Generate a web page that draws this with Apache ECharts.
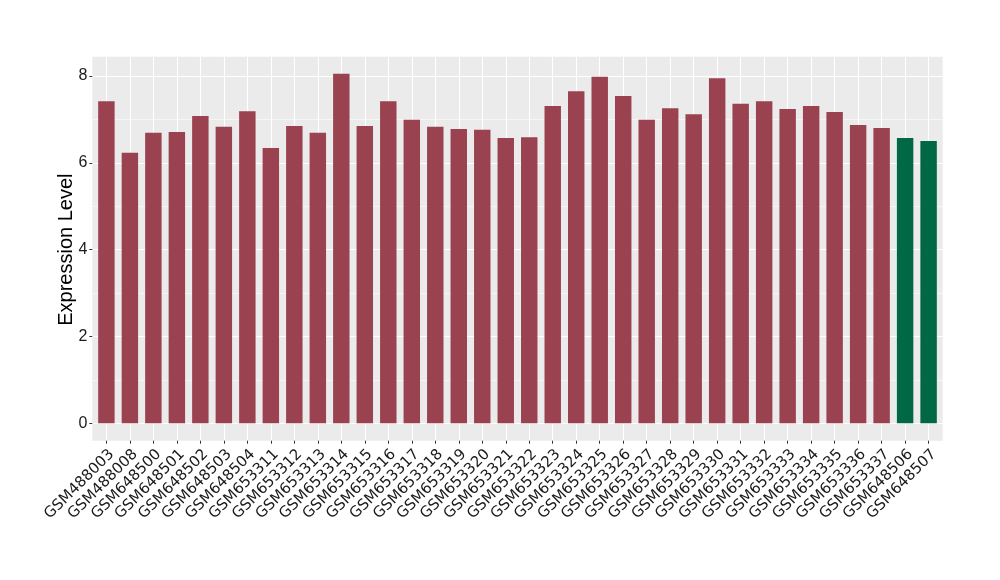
<!DOCTYPE html>
<html>
<head>
<meta charset="utf-8">
<script src="https://cdn.jsdelivr.net/npm/echarts@6/dist/echarts.min.js"></script>
<style>
  html, body { margin: 0; padding: 0; background: #ffffff; }
  #chart { width: 1000px; height: 580px; }
</style>
</head>
<body>
<div id="chart"></div>
<script>
const categories = [
  'GSM488003', 'GSM488008', 'GSM648500', 'GSM648501', 'GSM648502', 'GSM648503',
  'GSM648504', 'GSM653311', 'GSM653312', 'GSM653313', 'GSM653314', 'GSM653315',
  'GSM653316', 'GSM653317', 'GSM653318', 'GSM653319', 'GSM653320', 'GSM653321',
  'GSM653322', 'GSM653323', 'GSM653324', 'GSM653325', 'GSM653326', 'GSM653327',
  'GSM653328', 'GSM653329', 'GSM653330', 'GSM653331', 'GSM653332', 'GSM653333',
  'GSM653334', 'GSM653335', 'GSM653336', 'GSM653337', 'GSM648506', 'GSM648507'
];
const values = [
  7.42, 6.23, 6.69, 6.71, 7.08, 6.83,
  7.19, 6.34, 6.85, 6.69, 8.05, 6.85,
  7.42, 6.99, 6.83, 6.78, 6.76, 6.57,
  6.59, 7.31, 7.65, 7.98, 7.54, 6.99,
  7.26, 7.12, 7.95, 7.36, 7.42, 7.24,
  7.31, 7.17, 6.87, 6.80, 6.57, 6.50
];
const groups = [
  'a', 'a', 'a', 'a', 'a', 'a',
  'a', 'a', 'a', 'a', 'a', 'a',
  'a', 'a', 'a', 'a', 'a', 'a',
  'a', 'a', 'a', 'a', 'a', 'a',
  'a', 'a', 'a', 'a', 'a', 'a',
  'a', 'a', 'a', 'a', 'b', 'b'
];
const groupColors = { a: '#9A4250', b: '#006845' };
const yTicks = [0, 2, 4, 6, 8];

const chart = echarts.init(document.getElementById('chart'), null, { renderer: 'canvas' });

const textColor = '#1a1a1a';
const tickColor = '#333333';
const fontFam = '"Liberation Sans", Arial, sans-serif';

const option = {
  animation: false,
  backgroundColor: '#ffffff',
  grid: [
    // panel background
    { left: 92.3, top: 56.7, width: 850.4, height: 384, show: true, backgroundColor: '#EBEBEB', borderWidth: 0 },
    // vertical grid lines + x labels
    { left: 106.4, top: 56.7, width: 822.2, height: 384, show: false },
    // horizontal grid lines + y axis
    { left: 92.3, top: 76, width: 850.4, height: 347.3, show: false },
    // bars
    { left: 94.65, top: 76, width: 845.7, height: 347.3, show: false }
  ],
  xAxis: [
    { gridIndex: 0, type: 'value', show: false },
    {
      gridIndex: 1, type: 'category', data: categories, boundaryGap: false,
      axisLine: { show: false },
      axisTick: { show: true, length: 3, lineStyle: { color: tickColor, width: 1 } },
      splitLine: { show: true, lineStyle: { color: '#ffffff', width: 1.1 } },
      axisLabel: {
        interval: 0, rotate: 45, margin: 6, fontSize: 15,
        align: 'right', verticalAlign: 'top',
        color: textColor, fontFamily: '"DejaVu Sans", sans-serif'
      }
    },
    { gridIndex: 2, type: 'value', show: false },
    { gridIndex: 3, type: 'category', data: categories, boundaryGap: true, show: false }
  ],
  yAxis: [
    { gridIndex: 0, type: 'value', show: false },
    { gridIndex: 1, type: 'value', show: false },
    // minor grid lines
    {
      gridIndex: 2, type: 'value', position: 'left', min: 0, max: 8, interval: 1,
      axisLine: { show: false }, axisTick: { show: false }, axisLabel: { show: false },
      splitLine: { show: true, lineStyle: { color: '#ffffff', width: 0.55 } }
    },
    // major grid lines, labels, ticks, title
    {
      gridIndex: 2, type: 'value', position: 'left', offset: 0,
      min: yTicks[0], max: yTicks[yTicks.length - 1], interval: 2,
      axisLine: { show: false },
      axisTick: { show: true, length: 3, lineStyle: { color: tickColor, width: 1 } },
      axisLabel: { margin: 5, fontSize: 16, color: textColor, fontFamily: fontFam },
      splitLine: { show: true, lineStyle: { color: '#ffffff', width: 1.1 } },
      name: 'Expression Level', nameLocation: 'middle', nameGap: 16, nameMoveOverlap: false,
      nameTextStyle: { fontSize: 20, color: '#000000', fontFamily: fontFam }
    },
    { gridIndex: 3, type: 'value', min: 0, max: 8, show: false }
  ],
  series: [
    {
      type: 'bar',
      xAxisIndex: 3, yAxisIndex: 4,
      barWidth: '70%',
      clip: false,
      data: values.map((v, i) => ({ value: v, itemStyle: { color: groupColors[groups[i]] } }))
    }
  ]
};

chart.setOption(option);
</script>
</body>
</html>
